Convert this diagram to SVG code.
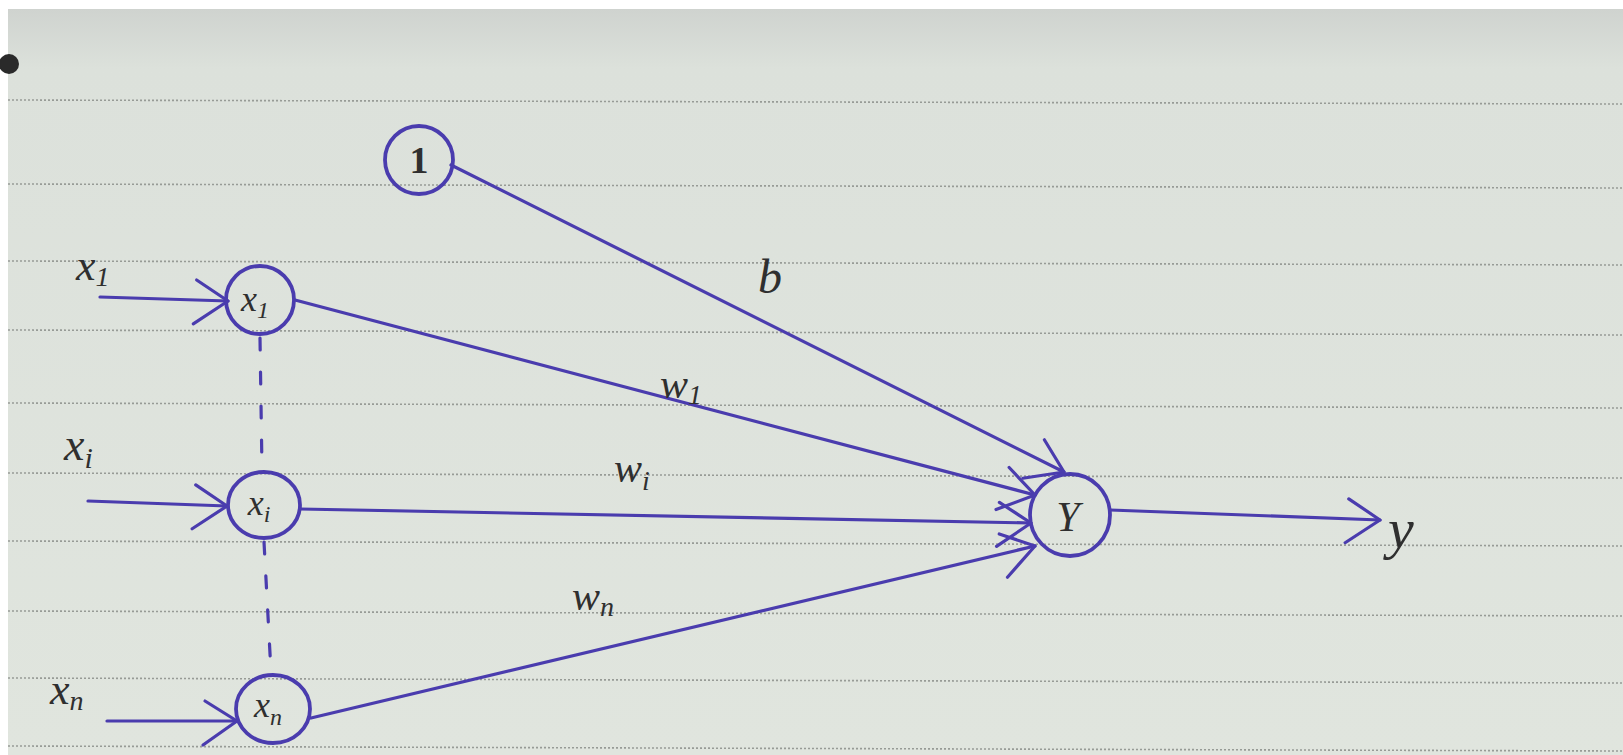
<svg xmlns="http://www.w3.org/2000/svg" width="1623" height="755" viewBox="0 0 1623 755">
  <defs>
    <linearGradient id="paper" x1="0" y1="0" x2="0" y2="1">
      <stop offset="0" stop-color="#cfd3cf"/>
      <stop offset="0.08" stop-color="#dce1db"/>
      <stop offset="1" stop-color="#e0e5de"/>
    </linearGradient>
    <marker id="ah" markerUnits="userSpaceOnUse" viewBox="-40 -30 46 60" refX="0" refY="0" markerWidth="46" markerHeight="60" orient="auto" overflow="visible">
      <path d="M-32,-20 L0,0 L-34,24" fill="none" stroke="#4a3cae" stroke-width="3.2" stroke-linecap="round" stroke-linejoin="round"/>
    </marker>
  </defs>
  <style>
    .rule { stroke: #979b96; stroke-width: 1.6; stroke-dasharray: 2 2; fill: none; }
    .ink { stroke: #4a3cae; stroke-width: 3.2; fill: none; stroke-linecap: round; }
    .node { stroke: #4a3cae; stroke-width: 3.8; fill: none; }
    .hw { font-family: "Liberation Serif", "DejaVu Serif", serif; font-style: italic; fill: #2f2f2f; }
    .up { font-style: normal; font-weight: bold; }
  </style>

  <!-- paper -->
  <rect x="0" y="0" width="1623" height="755" fill="#ffffff"/>
  <rect x="8" y="9" width="1615" height="746" fill="url(#paper)"/>
  <g id="rules">
    <line class="rule" x1="8" y1="100" x2="1623" y2="104"/>
    <line class="rule" x1="8" y1="184" x2="1623" y2="188"/>
    <line class="rule" x1="8" y1="261" x2="1623" y2="265"/>
    <line class="rule" x1="8" y1="330" x2="1623" y2="335"/>
    <line class="rule" x1="8" y1="403" x2="1623" y2="408"/>
    <line class="rule" x1="8" y1="473" x2="1623" y2="478"/>
    <line class="rule" x1="8" y1="541" x2="1623" y2="546"/>
    <line class="rule" x1="8" y1="611" x2="1623" y2="616"/>
    <line class="rule" x1="8" y1="678" x2="1623" y2="683"/>
    <line class="rule" x1="8" y1="746" x2="1623" y2="751"/>
  </g>
  <circle cx="9" cy="64" r="10" fill="#2a2a2a"/>

  <!-- connectors -->
  <g id="connectors">
    <line class="ink" x1="100" y1="297" x2="228" y2="301" marker-end="url(#ah)"/>
    <line class="ink" x1="88" y1="501" x2="227" y2="506" marker-end="url(#ah)"/>
    <line class="ink" x1="107" y1="721" x2="237" y2="721" marker-end="url(#ah)"/>
    <line class="ink" x1="260" y1="338" x2="262" y2="470" stroke-dasharray="12 22"/>
    <line class="ink" x1="264" y1="542" x2="271" y2="672" stroke-dasharray="12 22"/>
    <line class="ink" x1="451" y1="165" x2="1064" y2="472" marker-end="url(#ah)"/>
    <line class="ink" x1="295" y1="300" x2="1035" y2="495" marker-end="url(#ah)"/>
    <line class="ink" x1="300" y1="509" x2="1031" y2="523" marker-end="url(#ah)"/>
    <line class="ink" x1="311" y1="718" x2="1035" y2="546" marker-end="url(#ah)"/>
    <line class="ink" x1="1110" y1="510" x2="1380" y2="520" marker-end="url(#ah)"/>
  </g>

  <!-- nodes -->
  <g id="node-bias">
    <circle class="node" cx="419" cy="160" r="34"/>
    <text class="hw up" x="419" y="173" font-size="38" text-anchor="middle">1</text>
  </g>
  <g id="node-x1">
    <circle class="node" cx="260" cy="300" r="34"/>
    <text class="hw" x="255" y="311" font-size="36" text-anchor="middle">x<tspan font-size="24" dy="7">1</tspan></text>
  </g>
  <g id="node-xi">
    <ellipse class="node" cx="264" cy="505" rx="36" ry="33"/>
    <text class="hw" x="259" y="515" font-size="36" text-anchor="middle">x<tspan font-size="24" dy="7">i</tspan></text>
  </g>
  <g id="node-xn">
    <ellipse class="node" cx="273" cy="709" rx="37" ry="34"/>
    <text class="hw" x="268" y="717" font-size="36" text-anchor="middle">x<tspan font-size="24" dy="8">n</tspan></text>
  </g>
  <g id="node-Y">
    <ellipse class="node" cx="1070" cy="515" rx="40" ry="41"/>
    <text class="hw" x="1068" y="531" font-size="42" text-anchor="middle">Y</text>
  </g>

  <!-- labels -->
  <g id="labels">
    <text class="hw" x="76" y="280" font-size="44">x<tspan font-size="28" dy="6">1</tspan></text>
    <text class="hw" x="64" y="460" font-size="46">x<tspan font-size="30" dy="8">i</tspan></text>
    <text class="hw" x="50" y="704" font-size="44">x<tspan font-size="28" dy="6">n</tspan></text>
    <text class="hw" x="758" y="293" font-size="48">b</text>
    <text class="hw" x="660" y="398" font-size="42">w<tspan font-size="28" dy="6">1</tspan></text>
    <text class="hw" x="614" y="482" font-size="42">w<tspan font-size="28" dy="8">i</tspan></text>
    <text class="hw" x="572" y="610" font-size="42">w<tspan font-size="28" dy="6">n</tspan></text>
    <text class="hw" x="1388" y="548" font-size="58">y</text>
  </g>
</svg>
